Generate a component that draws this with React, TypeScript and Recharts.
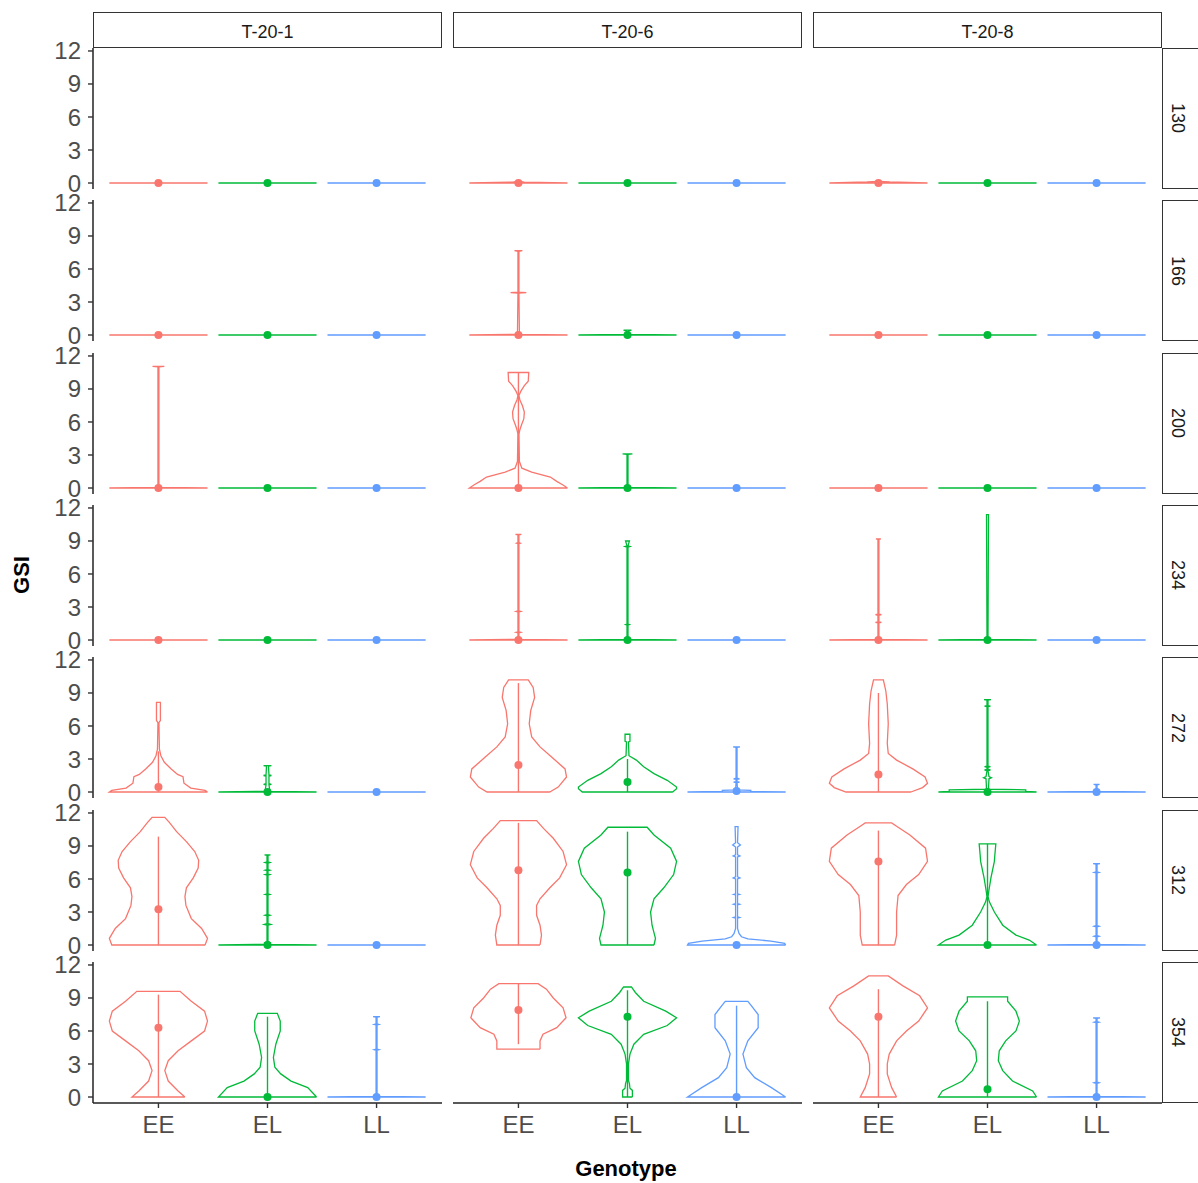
import { ScatterChart, Scatter, XAxis, YAxis } from 'recharts';

const TREATMENTS = ['T-20-1', 'T-20-6', 'T-20-8'];
const DAYS = ['130', '166', '200', '234', '272', '312', '354'];
const GENOTYPES = ['EE', 'EL', 'LL'];
const COLORS = ['#F8766D', '#00BA38', '#619CFF'];
const Y_TICKS = [0, 3, 6, 9, 12];

type Outline = number[][];

// violin outlines as [GSI, relative half width]
// order in each row: T-20-1 EE/EL/LL, T-20-6 EE/EL/LL, T-20-8 EE/EL/LL
const FLAT: Outline = [[0, 1]];

const v130: Outline[] = [
  FLAT, FLAT, FLAT,
  [[0, 1], [0.08, 0.12], [0.14, 0.02]], FLAT, FLAT,
  [[0, 1], [0.1, 0.23], [0.15, 0.02]], FLAT, FLAT,
];

const v166: Outline[] = [
  FLAT, FLAT, FLAT,
  [[0, 1], [0.06, 0.02], [3.8, 0.01], [3.85, 0.16], [3.9, 0.01], [7.6, 0.01], [7.66, 0.08]],
  [[0, 1], [0.05, 0.02], [0.35, 0.02], [0.45, 0.08]],
  FLAT,
  FLAT, FLAT, FLAT,
];

const v200: Outline[] = [
  [[0, 1], [0.06, 0.01], [11.0, 0.01], [11.05, 0.12]], FLAT, FLAT,
  [[0, 1], [0.3, 0.9], [0.6, 0.78], [1.0, 0.65], [1.45, 0.27], [1.8, 0.07], [2.4, 0.02], [4.9, 0.01], [5.3, 0.03],
    [5.7, 0.06], [6.3, 0.11], [6.9, 0.12], [7.5, 0.08], [8.0, 0.03], [8.4, 0.01], [8.8, 0.05], [9.3, 0.12], [9.7, 0.2], [10.5, 0.21]],
  [[0, 1], [0.06, 0.01], [3.05, 0.01], [3.1, 0.1]],
  FLAT,
  FLAT, FLAT, FLAT,
];

const v234: Outline[] = [
  FLAT, FLAT, FLAT,
  [[0, 1], [0.06, 0.01], [0.65, 0.01], [0.7, 0.05], [0.75, 0.01], [2.55, 0.01], [2.6, 0.05], [2.65, 0.01],
    [8.75, 0.01], [8.8, 0.04], [8.85, 0.01], [9.55, 0.01], [9.6, 0.06]],
  [[0, 1], [0.06, 0.01], [1.35, 0.01], [1.4, 0.04], [1.45, 0.01], [8.45, 0.01], [8.5, 0.05], [8.55, 0.01], [9.0, 0.04]],
  FLAT,
  [[0, 1], [0.06, 0.01], [1.55, 0.01], [1.6, 0.06], [1.65, 0.01], [2.25, 0.01], [2.3, 0.06], [2.35, 0.01], [9.15, 0.01], [9.2, 0.05]],
  [[0, 1], [0.06, 0.01], [11.4, 0.02]],
  FLAT,
];

const v272: Outline[] = [
  [[0, 1], [0.15, 0.95], [0.36, 0.66], [0.8, 0.52], [1.4, 0.5], [1.6, 0.39], [2.1, 0.26], [2.7, 0.12], [3.3, 0.05],
    [3.9, 0.02], [6.3, 0.01], [6.5, 0.04], [8.15, 0.04]],
  [[0, 1], [0.06, 0.05], [0.65, 0.03], [0.7, 0.08], [0.75, 0.03], [1.45, 0.03], [1.5, 0.08], [1.55, 0.03], [2.35, 0.02], [2.4, 0.08]],
  FLAT,
  [[0, 0.64], [0.45, 0.81], [1.36, 0.98], [2.1, 0.95], [3.2, 0.67], [4.1, 0.44], [5.0, 0.27], [6.2, 0.22], [7.4, 0.25],
    [8.6, 0.33], [9.5, 0.3], [10.2, 0.2]],
  [[0, 0.92], [0.3, 1], [0.45, 1], [1.06, 0.81], [1.67, 0.54], [2.3, 0.33], [2.9, 0.18], [3.3, 0.03], [4.55, 0.02], [4.6, 0.05], [5.25, 0.05]],
  [[0, 1], [0.05, 0.29], [0.15, 0.29], [0.2, 0.02], [0.85, 0.01], [0.9, 0.06], [0.95, 0.01], [1.15, 0.01], [1.2, 0.06], [1.25, 0.01],
    [4.05, 0.01], [4.1, 0.07]],
  [[0, 0.66], [0.4, 0.9], [0.8, 1.0], [1.36, 0.95], [2.1, 0.7], [2.9, 0.37], [3.5, 0.2], [4.4, 0.18], [6.2, 0.2], [8.0, 0.18],
    [9.2, 0.15], [10.2, 0.1]],
  [[0, 1], [0.05, 0.78], [0.2, 0.78], [0.25, 0.02], [1.2, 0.03], [1.3, 0.08], [1.4, 0.03], [1.95, 0.01], [2.0, 0.06], [2.05, 0.01],
    [2.25, 0.01], [2.3, 0.06], [2.35, 0.01], [7.75, 0.01], [7.8, 0.06], [7.85, 0.01], [8.35, 0.01], [8.4, 0.07]],
  [[0, 1], [0.06, 0.01], [0.65, 0.01], [0.7, 0.06]],
];

const v312: Outline[] = [
  [[0, 0.95], [0.6, 1.0], [1.5, 0.88], [2.4, 0.67], [3.6, 0.56], [4.4, 0.54], [5.2, 0.57], [6.1, 0.71], [7.0, 0.81], [7.7, 0.82],
    [8.5, 0.74], [9.4, 0.57], [10.3, 0.37], [11.1, 0.23], [11.6, 0.13]],
  [[0, 1], [0.06, 0.04], [0.2, 0.06], [0.3, 0.01], [1.8, 0.01], [1.87, 0.07], [1.94, 0.01], [2.65, 0.01], [2.7, 0.05], [2.75, 0.01],
    [4.55, 0.01], [4.6, 0.05], [4.65, 0.01], [6.35, 0.01], [6.4, 0.05], [6.45, 0.01], [6.75, 0.01], [6.8, 0.05], [6.85, 0.01],
    [7.45, 0.01], [7.5, 0.05], [7.55, 0.01], [8.15, 0.01], [8.2, 0.06]],
  FLAT,
  [[0, 0.44], [0.9, 0.47], [1.8, 0.44], [2.7, 0.37], [3.6, 0.37], [4.2, 0.44], [5.2, 0.64], [6.1, 0.84], [7.3, 0.98], [8.5, 0.91],
    [9.7, 0.71], [10.6, 0.51], [11.3, 0.37]],
  [[0, 0.54], [0.6, 0.57], [1.8, 0.5], [3.0, 0.47], [4.2, 0.54], [5.2, 0.74], [6.4, 0.94], [7.6, 1.0], [8.8, 0.88], [10.0, 0.54], [10.7, 0.4]],
  [[0, 1], [0.15, 0.98], [0.36, 0.7], [0.55, 0.23], [0.75, 0.1], [1.06, 0.05], [1.5, 0.02], [2.45, 0.02], [2.5, 0.06], [2.55, 0.02],
    [3.65, 0.02], [3.7, 0.06], [3.75, 0.02], [4.55, 0.02], [4.6, 0.06], [4.65, 0.02], [6.0, 0.02], [6.1, 0.07], [6.2, 0.02],
    [8.0, 0.02], [8.1, 0.07], [8.2, 0.02], [8.9, 0.02], [9.1, 0.08], [9.3, 0.02], [10.75, 0.03]],
  [[0, 0.33], [0.9, 0.37], [3.0, 0.37], [4.5, 0.4], [5.5, 0.57], [6.4, 0.82], [7.6, 1.0], [8.8, 0.96], [10.0, 0.64], [10.8, 0.37], [11.1, 0.27]],
  [[0, 1], [0.45, 0.85], [0.9, 0.58], [1.8, 0.31], [3.0, 0.14], [3.9, 0.04], [4.4, 0.01], [5.0, 0.03], [6.1, 0.07], [7.6, 0.14],
    [8.2, 0.15], [9.2, 0.17]],
  [[0, 1], [0.06, 0.01], [0.75, 0.01], [0.8, 0.05], [0.85, 0.01], [1.65, 0.01], [1.7, 0.05], [1.75, 0.01], [6.55, 0.01], [6.6, 0.05],
    [6.65, 0.01], [7.35, 0.01], [7.4, 0.07]],
];

const v354: Outline[] = [
  [[0, 0.54], [0.55, 0.4], [1.45, 0.2], [2.4, 0.13], [3.3, 0.2], [4.2, 0.4], [5.1, 0.67], [6.0, 0.94], [6.9, 1.0], [7.8, 0.94],
    [8.7, 0.67], [9.6, 0.44]],
  [[0, 1], [0.85, 0.82], [1.45, 0.48], [2.1, 0.27], [2.7, 0.15], [3.6, 0.12], [4.8, 0.17], [6.0, 0.26], [6.9, 0.26], [7.6, 0.2]],
  [[0, 1], [0.06, 0.01], [4.25, 0.01], [4.3, 0.05], [4.35, 0.01], [6.55, 0.01], [6.6, 0.05], [6.65, 0.01], [7.25, 0.01], [7.3, 0.07]],
  [[4.35, 0.44], [5.1, 0.44], [5.7, 0.5], [6.3, 0.78], [7.2, 0.97], [8.1, 0.91], [9.0, 0.71], [9.8, 0.57], [10.3, 0.4]],
  [[0, 0.1], [0.6, 0.1], [0.8, 0.05], [1.2, 0.04], [1.5, 0.02], [3.0, 0.02], [3.9, 0.05], [4.8, 0.13], [5.7, 0.33], [6.5, 0.81],
    [7.2, 1.0], [7.8, 0.78], [8.7, 0.33], [9.5, 0.16], [10.0, 0.08]],
  [[0, 1], [0.85, 0.71], [1.76, 0.37], [2.67, 0.2], [3.9, 0.13], [5.1, 0.23], [6.3, 0.44], [7.5, 0.44], [8.3, 0.3], [8.7, 0.23]],
  [[0, 0.37], [0.85, 0.27], [2.1, 0.18], [3.0, 0.18], [3.9, 0.22], [5.1, 0.37], [6.0, 0.57], [6.9, 0.82], [8.1, 1.0], [9.2, 0.84],
    [10.1, 0.5], [11.0, 0.2]],
  [[0, 1], [0.55, 0.92], [1.45, 0.51], [2.4, 0.31], [3.3, 0.22], [4.2, 0.24], [5.1, 0.37], [6.0, 0.58], [6.9, 0.65], [7.8, 0.58],
    [8.7, 0.41], [9.1, 0.41]],
  [[0, 1], [0.06, 0.01], [1.25, 0.01], [1.3, 0.05], [1.35, 0.01], [6.75, 0.01], [6.8, 0.05], [6.85, 0.01], [7.15, 0.01], [7.2, 0.07]],
];

// summary [low, point, high], same order
const Z = [0, 0, 0];
const s130 = [Z, Z, Z, Z, Z, Z, Z, Z, Z];
const s166 = [Z, Z, Z, Z, Z, Z, Z, Z, Z];
const s200 = [Z, Z, Z, [0, 0, 10.5], Z, Z, Z, Z, Z];
const s234 = [Z, Z, Z, Z, Z, Z, Z, Z, Z];
const s272 = [[0, 0.45, 3.7], Z, Z, [0, 2.45, 9.9], [0, 0.9, 3.0], [0, 0.1, 0.1], [0, 1.6, 9.0], Z, Z];
const s312 = [[0, 3.24, 9.85], Z, Z, [0, 6.8, 11.1], [0, 6.6, 10.3], Z, [0, 7.6, 10.4], [0, 0, 9.2], Z];
const s354 = [[0, 6.3, 9.3], [0, 0, 7.3], Z, [4.8, 7.9, 10.3], [0, 7.3, 9.7], [0, 0, 8.3], [0, 7.3, 9.8], [0, 0.7, 8.7], Z];

const VIOLINS = [v130, v166, v200, v234, v272, v312, v354];
const SUMMARIES = [s130, s166, s200, s234, s272, s312, s354];

const FONT = '"Liberation Sans", Arial, Helvetica, sans-serif';
const PANEL_W = 349;
const PANEL_H = 141;
const AXIS_W = 60;
const AXIS_H = 50;
const PAD_T = 15;
const PAD_R = 6;
const HALF = 0.45;

const colLeft = (j: number) => 93 + 360 * j;
const rowTop = (i: number) => 48 + 152.3 * i;

const noShape = () => <g />;

function outlinePoints(outline: Outline, center: number) {
  const right = outline.map(([y, w]) => ({ x: center + w * HALF, y }));
  const left = [...outline].reverse().map(([y, w]) => ({ x: center - w * HALF, y }));
  return [...right, ...left, right[0]];
}

function Panel({ row, col }: { row: number; col: number }) {
  const isLeft = col === 0;
  const isBottom = row === DAYS.length - 1;
  const outlines = VIOLINS[row].slice(col * 3, col * 3 + 3);
  const sums = SUMMARIES[row].slice(col * 3, col * 3 + 3);

  const series: any[] = [];
  GENOTYPES.forEach((g, k) => {
    const c = k + 1;
    const color = COLORS[k];
    const [lo, mid, hi] = sums[k];
    series.push(
      <Scatter
        key={`v-${g}`}
        data={outlinePoints(outlines[k], c)}
        fill={color}
        line={{ stroke: color, strokeWidth: 1.3 }}
        lineType="joint"
        shape={noShape}
        isAnimationActive={false}
      />
    );
    if (hi > lo) {
      series.push(
        <Scatter
          key={`l-${g}`}
          data={[{ x: c, y: lo }, { x: c, y: hi }]}
          fill={color}
          line={{ stroke: color, strokeWidth: 1.4 }}
          lineType="joint"
          shape={noShape}
          isAnimationActive={false}
        />
      );
    }
    series.push(
      <Scatter
        key={`p-${g}`}
        data={[{ x: c, y: mid }]}
        fill={color}
        shape={(p: any) => <circle cx={p.cx} cy={p.cy} r={4} fill={color} />}
        isAnimationActive={false}
      />
    );
  });

  return (
    <div style={{ position: 'absolute', left: colLeft(col) - AXIS_W, top: rowTop(row) - PAD_T }}>
      <ScatterChart
        width={AXIS_W + PANEL_W + PAD_R}
        height={PAD_T + PANEL_H + AXIS_H}
        margin={{ top: PAD_T, right: PAD_R, bottom: 0, left: 0 }}
      >
        <XAxis
          type="number"
          dataKey="x"
          domain={[0.4, 3.6]}
          ticks={[1, 2, 3]}
          interval={0}
          allowDataOverflow
          height={AXIS_H}
          tickFormatter={(v: number) => GENOTYPES[v - 1]}
          axisLine={isBottom ? { stroke: '#222', strokeWidth: 1.5 } : false}
          tickLine={isBottom ? { stroke: '#333', strokeWidth: 1.4 } : false}
          tick={isBottom ? { fill: '#4D4D4D', fontSize: 24, fontFamily: FONT } : false}
          tickSize={5}
          tickMargin={8}
        />
        <YAxis
          type="number"
          dataKey="y"
          domain={[-0.545, 12.27]}
          ticks={Y_TICKS}
          interval={0}
          allowDataOverflow
          width={AXIS_W}
          axisLine={isLeft ? { stroke: '#222', strokeWidth: 1.5 } : false}
          tickLine={isLeft ? { stroke: '#333', strokeWidth: 1.4 } : false}
          tick={isLeft ? { fill: '#4D4D4D', fontSize: 24, fontFamily: FONT } : false}
          tickSize={5}
          tickMargin={7}
        />
        {series}
      </ScatterChart>
    </div>
  );
}

const stripStyle: React.CSSProperties = {
  position: 'absolute',
  boxSizing: 'border-box',
  border: '1.5px solid #333',
  background: '#fff',
  display: 'flex',
  alignItems: 'center',
  justifyContent: 'center',
  fontFamily: FONT,
  fontSize: 18,
  color: '#1A1A1A',
};

export default function App() {
  return (
    <div
      style={{
        position: 'absolute',
        left: 0,
        top: 0,
        width: 1198,
        height: 1183,
        overflow: 'hidden',
        background: '#fff',
      }}
    >
      {TREATMENTS.map((t, j) => (
        <div key={t} style={{ ...stripStyle, left: colLeft(j), top: 12, width: PANEL_W, height: 36, paddingTop: 4 }}>
          {t}
        </div>
      ))}
      {DAYS.map((d, i) => (
        <div key={d} style={{ ...stripStyle, left: 1162, top: rowTop(i), width: 37, height: PANEL_H, paddingRight: 7 }}>
          <span style={{ writingMode: 'vertical-rl' }}>{d}</span>
        </div>
      ))}
      {DAYS.map((d, i) =>
        TREATMENTS.map((t, j) => <Panel key={`${d}-${t}`} row={i} col={j} />)
      )}
      <div
        style={{
          position: 'absolute',
          left: 22 - 50,
          top: 575 - 15,
          width: 100,
          height: 30,
          lineHeight: '30px',
          textAlign: 'center',
          transform: 'rotate(-90deg)',
          fontFamily: FONT,
          fontWeight: 'bold',
          fontSize: 22,
          color: '#000',
        }}
      >
        GSI
      </div>
      <div
        style={{
          position: 'absolute',
          left: 526,
          top: 1155,
          width: 200,
          height: 28,
          lineHeight: '28px',
          textAlign: 'center',
          fontFamily: FONT,
          fontWeight: 'bold',
          fontSize: 22,
          color: '#000',
        }}
      >
        Genotype
      </div>
    </div>
  );
}
